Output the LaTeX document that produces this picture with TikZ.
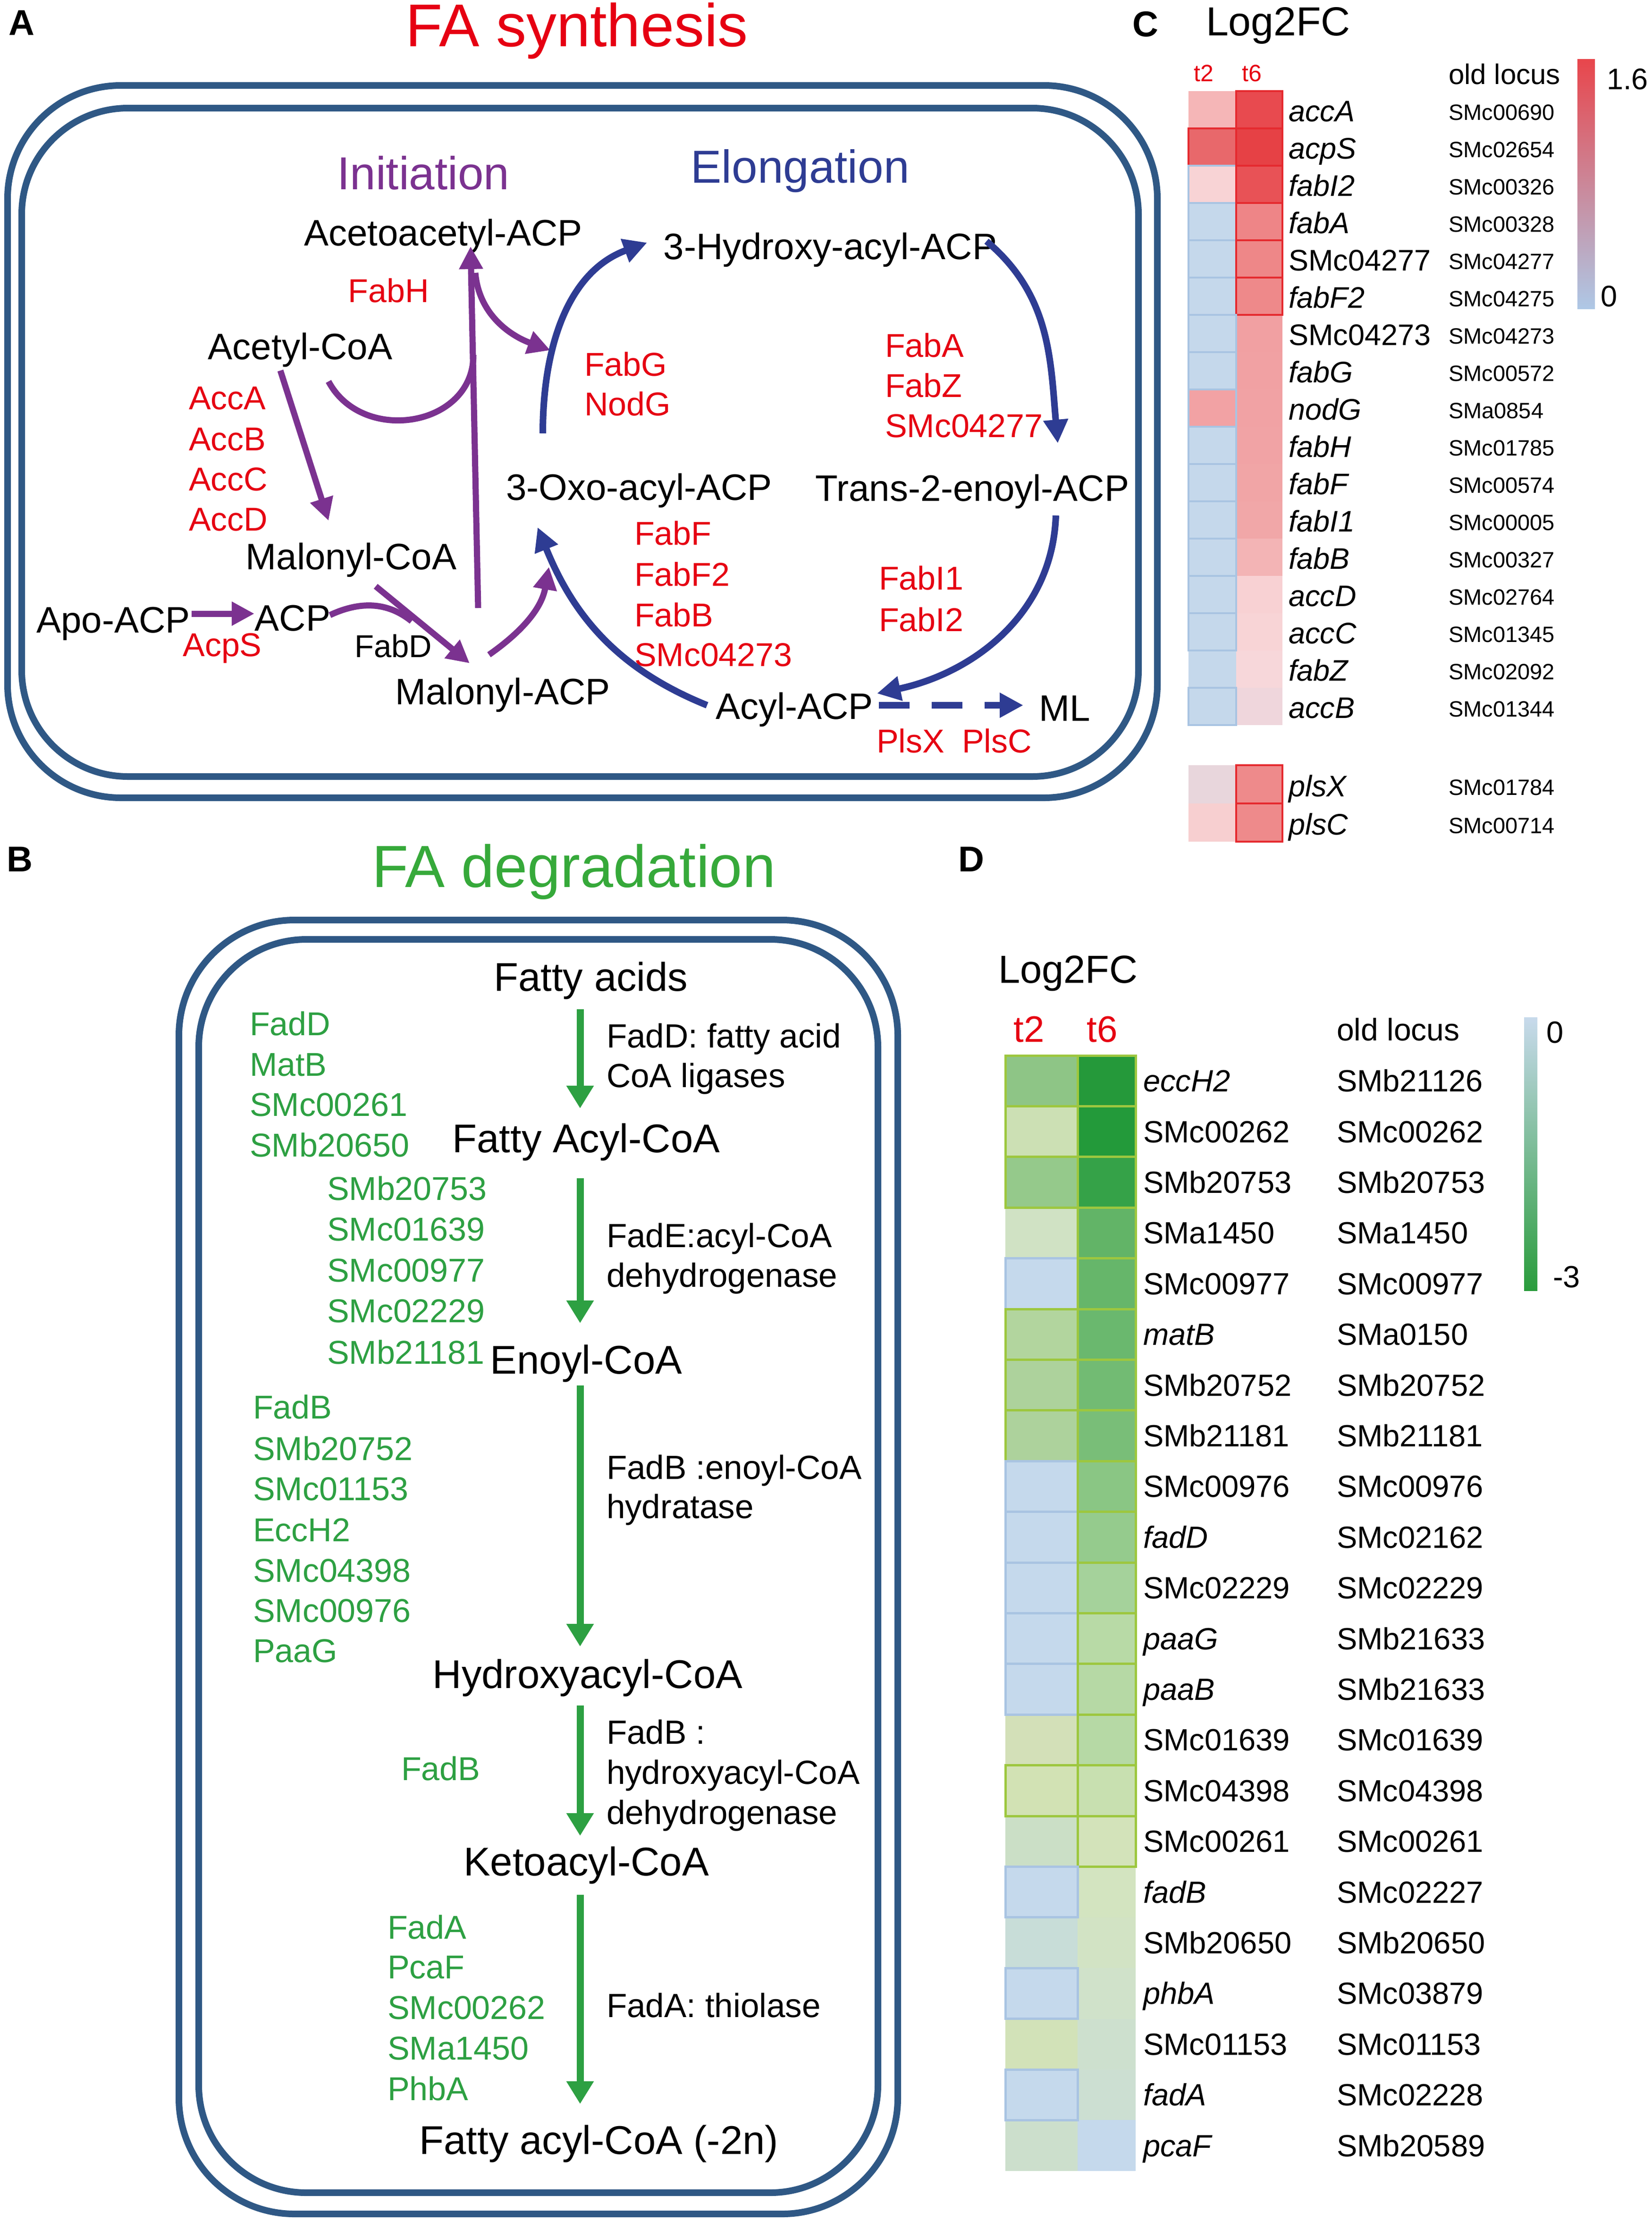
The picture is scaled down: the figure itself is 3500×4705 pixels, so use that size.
\documentclass[tikz,border=0pt]{standalone}
\usepackage{fontspec}
\setmainfont{Liberation Sans}
\usetikzlibrary{arrows.meta}
\newcommand{\fsz}[1]{\fontsize{#1}{#1}\selectfont}
\definecolor{boxblue}{HTML}{2F5885}
\definecolor{purp}{HTML}{7B3290}
\definecolor{arblue}{HTML}{2E3C93}
\definecolor{redt}{HTML}{E60012}
\definecolor{greent}{HTML}{2DA042}
\definecolor{titlegreen}{HTML}{36A93A}
\definecolor{hred}{HTML}{E52A2F}
\definecolor{hblue}{HTML}{A9C4E2}
\definecolor{hgreen}{HTML}{9DC73F}
\definecolor{cbCtop}{HTML}{E8464C}
\definecolor{cbCmid}{HTML}{F3C4C7}
\definecolor{cbCbot}{HTML}{AEC8E6}
\definecolor{cbDtop}{HTML}{C8DAEC}
\definecolor{cbDmid}{HTML}{C9E0B4}
\definecolor{cbDbot}{HTML}{2A9C3C}
\begin{document}
\begin{tikzpicture}[x=1pt,y=1pt,
  txt/.style={inner sep=0pt, outer sep=0pt, anchor=base},
  ltxt/.style={inner sep=0pt, outer sep=0pt, anchor=base west},
  met/.style={txt, font=\fsz{78}},
  enz/.style={ltxt, font=\fsz{70}, text=redt},
  enzc/.style={txt, font=\fsz{70}, text=redt},
  bmet/.style={txt, font=\fsz{85}},
  bdesc/.style={ltxt, font=\fsz{71}},
  bgreen/.style={ltxt, font=\fsz{70}, text=greent},
  panel/.style={txt, font=\fsz{76}\bfseries},
  boxline/.style={draw=boxblue, line width=14pt},
  pline/.style={draw=purp, line width=13pt},
  parr/.style={pline, -{Triangle[length=48pt,width=48pt]}},
  barr/.style={draw=arblue, line width=14pt, -{Triangle[length=50pt,width=50pt]}},
  garr/.style={draw=greent, line width=15pt, -{Triangle[length=48pt,width=55pt]}}
]
\useasboundingbox (0,0) rectangle (3500,-4705);
\fill[white] (0,0) rectangle (3500,-4705);

% ---------------- Panel A ----------------
\node[panel] (lA) at (46,-75) {A};
\node[txt, font=\fsz{128}, text=redt] (tA) at (1222,-99) {FA synthesis};
\draw[boxline, rounded corners=240pt] (16,-181) rectangle (2452,-1690);
\draw[boxline, rounded corners=225pt] (46,-229) rectangle (2412,-1645);

\node[txt, font=\fsz{98}, text=purp] (init) at (897,-401) {Initiation};
\node[txt, font=\fsz{98}, text=arblue] (elong) at (1695,-387) {Elongation};

\node[met] (acac) at (939,-520) {Acetoacetyl-ACP};
\node[met] (hyd) at (1759,-549) {3-Hydroxy-acyl-ACP};
\node[met] (acet) at (636,-761) {Acetyl-CoA};
\node[met] (malc) at (744,-1206) {Malonyl-CoA};
\node[met] (oxo) at (1354,-1059) {3-Oxo-acyl-ACP};
\node[met] (trans) at (2060,-1061) {Trans-2-enoyl-ACP};
\node[met] (apo) at (240,-1340) {Apo-ACP};
\node[met] (acp) at (620,-1336) {ACP};
\node[met] (mala) at (1065,-1492) {Malonyl-ACP};
\node[met] (acyl) at (1683,-1523) {Acyl-ACP};
\node[met] (ml) at (2256,-1527) {ML};

\node[enzc] (fabH) at (823,-640) {FabH};
\node[enz] (fabG) at (1238,-796) {FabG};
\node[enz] (nodG) at (1238,-880) {NodG};
\node[enz] (fabA) at (1875,-756) {FabA};
\node[enz] (fabZ) at (1875,-841) {FabZ};
\node[enz] (smcA) at (1875,-926) {SMc04277};
\node[enz] (accA) at (400,-867) {AccA};
\node[enz] (accB) at (400,-954) {AccB};
\node[enz] (accC) at (400,-1039) {AccC};
\node[enz] (accD) at (400,-1124) {AccD};
\node[enz] (fabF) at (1344,-1154) {FabF};
\node[enz] (fabFF) at (1344,-1241) {FabF2};
\node[enz] (fabB) at (1344,-1327) {FabB};
\node[enz] (smcB) at (1344,-1411) {SMc04273};
\node[enz] (fabIa) at (1862,-1249) {FabI1};
\node[enz] (fabIb) at (1862,-1337) {FabI2};
\node[enzc] (acpS) at (471,-1390) {AcpS};
\node[txt, font=\fsz{67}] (fabD) at (833,-1392) {FabD};
\node[enzc] (plsX) at (1929,-1594) {PlsX};
\node[enzc] (plsC) at (2112,-1594) {PlsC};

% purple connectors
\coordinate (p1s) at (594,-785);  \coordinate (p1e) at (696,-1103);
\coordinate (p2s) at (696,-808);  \coordinate (p2e) at (1003,-752);
\coordinate (p3s) at (1013,-1288); \coordinate (p3e) at (997,-522);
\coordinate (p4s) at (1007,-578); \coordinate (p4e) at (1166,-742);
\coordinate (p5s) at (406,-1300); \coordinate (p5e) at (539,-1300);
\coordinate (p6s) at (699,-1303); \coordinate (p6e) at (872,-1316);
\coordinate (p7s) at (796,-1242); \coordinate (p7e) at (995,-1405);
\coordinate (p8s) at (1036,-1387); \coordinate (p8e) at (1163,-1201);
\draw[parr] (p1s) -- (p1e);
\draw[pline] (p2s) to[out=-62,in=-90,looseness=1.25] (p2e);
\draw[parr] (p3s) -- (p3e);
\draw[parr] (p4s) to[out=-85,in=160] (p4e);
\draw[parr] (p5s) -- (p5e);
\draw[pline] (p6s) to[out=25,in=141] (p6e);
\draw[parr] (p7s) -- (p7e);
\draw[parr] (p8s) to[out=35,in=-100] (p8e);

% blue connectors
\coordinate (b1s) at (1150,-918);  \coordinate (b1e) at (1371,-514);
\coordinate (b2s) at (2090,-511);  \coordinate (b2e) at (2241,-939);
\coordinate (b3s) at (2237,-1092); \coordinate (b3e) at (1858,-1469);
\coordinate (b4s) at (1498,-1494); \coordinate (b4e) at (1139,-1117);
\coordinate (d1s) at (1862,-1494); \coordinate (d1e) at (2168,-1494);
\draw[barr] (b1s) to[out=90,in=-160] (b1e);
\draw[barr] (b2s) to[out=-40,in=95] (b2e);
\draw[barr] (b3s) to[out=-92,in=12] (b3e);
\draw[barr] (b4s) to[out=158,in=-68] (b4e);
\draw[barr, dash pattern=on 65pt off 47pt] (d1s) -- (d1e);

% ---------------- Panel B ----------------
\node[panel] (lB) at (42,-1846) {B};
\node[txt, font=\fsz{126}, text=titlegreen] (tB) at (1216,-1879) {FA degradation};
\draw[boxline, rounded corners=245pt] (379,-1949) rectangle (1902,-4690);
\draw[boxline, rounded corners=228pt] (421,-1990) rectangle (1860,-4645);

\node[bmet] (fa) at (1252,-2099) {Fatty acids};
\node[bmet] (facoa) at (1242,-2441) {Fatty Acyl-CoA};
\node[bmet] (enoyl) at (1242,-2910) {Enoyl-CoA};
\node[bmet] (hydx) at (1245,-3576) {Hydroxyacyl-CoA};
\node[bmet] (keto) at (1242,-3973) {Ketoacyl-CoA};
\node[bmet] (fa2n) at (1269,-4563) {Fatty acyl-CoA (-2n)};

\node[bdesc] (dA1) at (1285,-2219) {FadD: fatty acid};
\node[bdesc] (dA2) at (1285,-2303) {CoA ligases};
\node[bdesc] (dB1) at (1285,-2642) {FadE:acyl-CoA};
\node[bdesc] (dB2) at (1285,-2726) {dehydrogenase};
\node[bdesc] (dC1) at (1285,-3133) {FadB :enoyl-CoA};
\node[bdesc] (dC2) at (1285,-3216) {hydratase};
\node[bdesc] (dD1) at (1285,-3694) {FadB :};
\node[bdesc] (dD2) at (1285,-3779) {hydroxyacyl-CoA};
\node[bdesc] (dD3) at (1285,-3864) {dehydrogenase};
\node[bdesc] (dE1) at (1285,-4273) {FadA: thiolase};

\node[bgreen] (g1) at (529,-2193) {FadD};
\node[bgreen] (g2) at (529,-2279) {MatB};
\node[bgreen] (g3) at (529,-2364) {SMc00261};
\node[bgreen] (g4) at (529,-2450) {SMb20650};
\node[bgreen] (g5) at (693,-2542) {SMb20753};
\node[bgreen] (g6) at (693,-2628) {SMc01639};
\node[bgreen] (g7) at (693,-2715) {SMc00977};
\node[bgreen] (g8) at (693,-2801) {SMc02229};
\node[bgreen] (g9) at (693,-2889) {SMb21181};
\node[bgreen] (g10) at (536,-3005) {FadB};
\node[bgreen] (g11) at (536,-3093) {SMb20752};
\node[bgreen] (g12) at (536,-3178) {SMc01153};
\node[bgreen] (g13) at (536,-3265) {EccH2};
\node[bgreen] (g14) at (536,-3351) {SMc04398};
\node[bgreen] (g15) at (536,-3436) {SMc00976};
\node[bgreen] (g16) at (536,-3521) {PaaG};
\node[bgreen] (g17) at (850,-3771) {FadB};
\node[bgreen] (g18) at (821,-4107) {FadA};
\node[bgreen] (g19) at (821,-4191) {PcaF};
\node[bgreen] (g20) at (821,-4277) {SMc00262};
\node[bgreen] (g21) at (821,-4363) {SMa1450};
\node[bgreen] (g22) at (821,-4449) {PhbA};

\coordinate (ga1) at (1229,-2138); \coordinate (gb1) at (1229,-2348);
\coordinate (ga2) at (1229,-2496); \coordinate (gb2) at (1229,-2803);
\coordinate (ga3) at (1229,-2935); \coordinate (gb3) at (1229,-3488);
\coordinate (ga4) at (1229,-3613); \coordinate (gb4) at (1229,-3889);
\coordinate (ga5) at (1229,-4014); \coordinate (gb5) at (1229,-4457);
\foreach \k in {1,...,5}{\draw[garr] (ga\k) -- (gb\k);}

% ---------------- Panel C ----------------
\node[panel] (lC) at (2427,-78) {C};
\node[txt, font=\fsz{86}] (logC) at (2708,-76) {Log2FC};
\node[txt, font=\fsz{50}, text=redt] (ct2) at (2550,-172) {t2};
\node[txt, font=\fsz{50}, text=redt] (ct6) at (2652,-172) {t6};
\node[ltxt, font=\fsz{60}] (colC) at (3069,-178) {old locus};

\foreach \i/\g/\l/\ca/\cb in {
 1/{\textit{accA}}/SMc00690/F5B6B7/E84A4F,
 2/{\textit{acpS}}/SMc02654/E8686B/E64145,
 3/{\textit{fabI2}}/SMc00326/F8D3D5/E85256,
 4/{\textit{fabA}}/SMc00328/C5D8EB/EE8587,
 5/{SMc04277}/SMc04277/C5D8EB/EE8788,
 6/{\textit{fabF2}}/SMc04275/C5D8EB/EE898A,
 7/{SMc04273}/SMc04273/C5D8EB/F1A0A2,
 8/{\textit{fabG}}/SMc00572/C5D8EB/F1A1A3,
 9/{\textit{nodG}}/SMa0854/F2A2A4/F1A2A4,
 10/{\textit{fabH}}/SMc01785/C5D8EB/F1A3A5,
 11/{\textit{fabF}}/SMc00574/C5D8EB/F1A5A6,
 12/{\textit{fabI1}}/SMc00005/C5D8EB/F1A7A8,
 13/{\textit{fabB}}/SMc00327/C5D8EB/F3B4B5,
 14/{\textit{accD}}/SMc02764/C5D8EB/F8D1D3,
 15/{\textit{accC}}/SMc01345/C5D8EB/F8D4D6,
 16/{\textit{fabZ}}/SMc02092/C5D8EB/F7D7DA,
 17/{\textit{accB}}/SMc01344/C5D8EB/EFD6DC}{
  \definecolor{tmpa}{HTML}{\ca}\definecolor{tmpb}{HTML}{\cb}
  \fill[tmpa] (2518,{-193-79*(\i-1)}) rectangle (2619,{-193-79*\i});
  \fill[tmpb] (2619,{-193-79*(\i-1)}) rectangle (2717,{-193-79*\i});
  \node[ltxt, font=\fsz{63}] (cg\i) at (2730,{-193-79*(\i-0.5)-25}) {\g};
  \node[ltxt, font=\fsz{47}] (cl\i) at (3069,{-193-79*(\i-0.5)-22}) {\l};
}
\foreach \i/\ba/\bb in {1/none/hred,2/hred/hred,3/hblue/hred,4/hblue/hred,5/hblue/hred,6/hblue/hred,
 7/hblue/none,8/hblue/none,9/hblue/none,10/hblue/none,11/hblue/none,12/hblue/none,13/hblue/none,
 14/hblue/none,15/hblue/none,16/none/none,17/hblue/none}{
  \draw[draw=\ba, line width=4pt] (2518,{-193-79*(\i-1)}) rectangle (2619,{-193-79*\i});
  \draw[draw=\bb, line width=4pt] (2619,{-193-79*(\i-1)}) rectangle (2717,{-193-79*\i});
}
% plsX, plsC
\definecolor{tmpa}{HTML}{E8D6DC}\definecolor{tmpb}{HTML}{EE8A8B}
\fill[tmpa] (2518,-1621) rectangle (2619,-1702);
\fill[tmpb] (2619,-1621) rectangle (2717,-1702);
\definecolor{tmpa}{HTML}{F7CFD0}
\fill[tmpa] (2518,-1702) rectangle (2619,-1783);
\fill[tmpb] (2619,-1702) rectangle (2717,-1783);
\draw[hred, line width=4pt] (2619,-1621) rectangle (2717,-1702);
\draw[hred, line width=4pt] (2619,-1702) rectangle (2717,-1783);
\node[ltxt, font=\fsz{63}] (cgX) at (2730,-1687) {\textit{plsX}};
\node[ltxt, font=\fsz{47}] (clX) at (3069,-1684) {SMc01784};
\node[ltxt, font=\fsz{63}] (cgY) at (2730,-1768) {\textit{plsC}};
\node[ltxt, font=\fsz{47}] (clY) at (3069,-1765) {SMc00714};

\shade[top color=cbCtop, middle color=cbCmid, bottom color=cbCbot] (3342,-126) rectangle (3379,-654);
\node[ltxt, font=\fsz{63}] (cbC1) at (3404,-189) {1.6};
\node[ltxt, font=\fsz{63}] (cbC0) at (3391,-649) {0};

% ---------------- Panel D ----------------
\node[panel] (lD) at (2058,-1846) {D};
\node[txt, font=\fsz{83}] (logD) at (2263,-2082) {Log2FC};
\node[txt, font=\fsz{78}, text=redt] (dt2) at (2180,-2207) {t2};
\node[txt, font=\fsz{78}, text=redt] (dt6) at (2335,-2207) {t6};
\node[ltxt, font=\fsz{66}] (colD) at (2832,-2204) {old locus};

\foreach \i/\g/\l/\ca/\cb in {
 1/{\textit{eccH2}}/SMb21126/8EC586/25993A,
 2/{SMc00262}/SMc00262/CCE0B4/239A3A,
 3/{SMb20753}/SMb20753/95C98B/35A248,
 4/{SMa1450}/SMa1450/D0E2C4/62B467,
 5/{SMc00977}/SMc00977/C5D9EC/66B66A,
 6/{\textit{matB}}/SMa0150/B2D59E/6AB86E,
 7/{SMb20752}/SMb20752/ADD29C/72BB73,
 8/{SMb21181}/SMb21181/ADD29C/79BE78,
 9/{SMc00976}/SMc00976/C5D9EC/8AC684,
 10/{\textit{fadD}}/SMc02162/C5D9EC/95CB8D,
 11/{SMc02229}/SMc02229/C5D9EC/A5D29B,
 12/{\textit{paaG}}/SMb21633/C5D9EC/B8DAA6,
 13/{\textit{paaB}}/SMb21633/C5D9EC/B6D9A5,
 14/{SMc01639}/SMc01639/D3E0B8/B6D9A5,
 15/{SMc04398}/SMc04398/D2E2B4/C8E0B0,
 16/{SMc00261}/SMc00261/CBDFC6/D3E3BA,
 17/{\textit{fadB}}/SMc02227/C5D9EC/D3E4C0,
 18/{SMb20650}/SMb20650/C8DDD8/D2E3C4,
 19/{\textit{phbA}}/SMc03879/C5D9EC/D0E2CA,
 20/{SMc01153}/SMc01153/D2E2B8/CDE0CE,
 21/{\textit{fadA}}/SMc02228/C5D9EC/CCDFD2,
 22/{\textit{pcaF}}/SMb20589/CCDFCC/C5D9EC}{
  \definecolor{tmpa}{HTML}{\ca}\definecolor{tmpb}{HTML}{\cb}
  \fill[tmpa] (2130,{-2236-107.4*(\i-1)}) rectangle (2283,{-2236-107.4*\i});
  \fill[tmpb] (2283,{-2236-107.4*(\i-1)}) rectangle (2406,{-2236-107.4*\i});
  \node[ltxt, font=\fsz{65}] (dg\i) at (2422,{-2236-107.4*(\i-0.5)-23}) {\g};
  \node[ltxt, font=\fsz{65}] (dl\i) at (2832,{-2236-107.4*(\i-0.5)-23}) {\l};
}
\foreach \i/\ba/\bb in {1/hgreen/hgreen,2/hgreen/hgreen,3/hgreen/hgreen,4/none/hgreen,5/hblue/hgreen,
 6/hgreen/hgreen,7/hgreen/hgreen,8/hgreen/hgreen,9/hblue/hgreen,10/hblue/hgreen,11/hblue/hgreen,
 12/hblue/hgreen,13/hblue/hgreen,14/none/hgreen,15/hgreen/hgreen,16/none/hgreen,17/hblue/none,
 18/none/none,19/hblue/none,20/none/none,21/hblue/none,22/none/none}{
  \draw[draw=\ba, line width=5pt] (2130,{-2236-107.4*(\i-1)}) rectangle (2283,{-2236-107.4*\i});
  \draw[draw=\bb, line width=5pt] (2283,{-2236-107.4*(\i-1)}) rectangle (2406,{-2236-107.4*\i});
}
\shade[top color=cbDtop, middle color=cbDmid, bottom color=cbDbot] (3229,-2155) rectangle (3257,-2734);
\node[ltxt, font=\fsz{65}] (cbD0) at (3276,-2209) {0};
\node[ltxt, font=\fsz{65}] (cbD3) at (3290,-2727) {-3};
\end{tikzpicture}
\end{document}
